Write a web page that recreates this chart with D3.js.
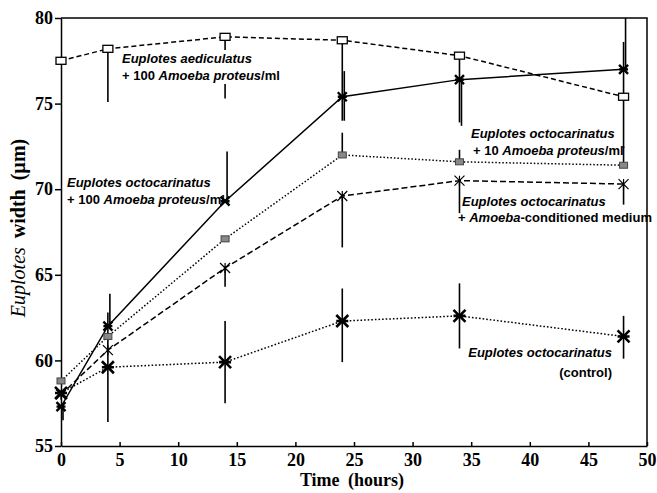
<!DOCTYPE html>
<html>
<head>
<meta charset="utf-8">
<script src="https://cdn.jsdelivr.net/npm/d3@7"></script>
<style>
body { margin: 0; background: #fff; }
svg { display: block; }
.lbl { font-family: "Liberation Sans", Arial, sans-serif; font-size: 13px; font-weight: bold; }
.ax text { font-family: "Liberation Serif", "Times New Roman", serif; font-size: 18px; font-weight: bold; }
</style>
</head>
<body>
<script>
// sampling times (hours)
const hours = [0, 4, 14, 24, 34, 48];

// mean widths (µm)
const aediculatus100 = [77.5, 78.2, 78.9, 78.7, 77.8, 75.4];
const octo100 = [57.3, 62.0, 69.3, 75.4, 76.4, 77.0];
const octo10 = [58.8, 61.4, 67.1, 72.0, 71.6, 71.4];
const octoConditioned = [58.0, 60.6, 65.4, 69.6, 70.5, 70.3];
const octoControl = [58.1, 59.6, 59.9, 62.3, 62.6, 61.4];

// error bar ends (null = not drawn on that side)
const aediculatus100Lo = [null, 75.1, 75.3, 74.0, 73.9, 72.4];
const aediculatus100Hi = [null, null, null, null, null, 78.6];
const octo100Lo = [56.5, null, null, 74.0, 73.7, null];
const octo100Hi = [null, 63.9, 72.2, 76.9, null, 81];
const octo10Lo = [null, null, null, null, null, null];
const octo10Hi = [null, null, null, 73.3, 72.3, 72.5];
const octoConditionedLo = [null, null, 64.3, 66.6, 68.6, 69.1];
const octoConditionedHi = [null, null, null, null, null, null];
const octoControlLo = [null, 56.4, 57.5, 59.9, 60.7, 60.1];
const octoControlHi = [null, 62.8, 62.3, 64.2, 64.5, 62.6];

const xTicks = [0, 5, 10, 15, 20, 25, 30, 35, 40, 45, 50];
const yTicks = [55, 60, 65, 70, 75, 80];

const width = 657, height = 493;
const margin = {top: 18, right: 10, bottom: 47, left: 61};

const x = d3.scaleLinear().domain([0, 50]).range([margin.left, width - margin.right]);
const y = d3.scaleLinear().domain([55, 80]).range([height - margin.bottom, margin.top]);

const svg = d3.select("body").append("svg")
    .attr("width", width)
    .attr("height", height);

svg.append("clipPath").attr("id", "plot")
  .append("rect")
    .attr("x", x(0)).attr("y", y(80))
    .attr("width", x(50) - x(0)).attr("height", y(55) - y(80));

// series setup
const series = [
  {vals: aediculatus100, lo: aediculatus100Lo, hi: aediculatus100Hi, dash: "5,3", mark: "open", dx: 0},
  {vals: octo100, lo: octo100Lo, hi: octo100Hi, dash: null, mark: "star", dx: 2},
  {vals: octo10, lo: octo10Lo, hi: octo10Hi, dash: "1.5,2", mark: "grey", dx: 0},
  {vals: octoConditioned, lo: octoConditionedLo, hi: octoConditionedHi, dash: "6,3", mark: "thin", dx: 0},
  {vals: octoControl, lo: octoControlLo, hi: octoControlHi, dash: "1.6,2", mark: "bold", dx: 0}
];

// axes
const yAxis = d3.axisLeft(y).tickValues(yTicks).tickSizeInner(6).tickSizeOuter(0).tickPadding(2);
const xAxis = d3.axisBottom(x).tickValues(xTicks).tickSizeInner(-4).tickSizeOuter(0).tickPadding(7);

svg.append("g").attr("class", "ax")
    .attr("transform", `translate(${margin.left},0)`)
    .call(yAxis)
    .call(g => g.selectAll("line,path").attr("stroke", "#000").attr("stroke-width", 1.5))
    .call(g => g.selectAll("text").attr("fill", "#000"));

svg.append("g").attr("class", "ax")
    .attr("transform", `translate(0,${y(55)})`)
    .call(xAxis)
    .call(g => g.selectAll("line,path").attr("stroke", "#000").attr("stroke-width", 1.5))
    .call(g => g.selectAll("text").attr("fill", "#000"));

// top and right border
svg.append("path")
    .attr("d", `M${x(0)},${y(80)}H${x(50)}V${y(55)}`)
    .attr("fill", "none").attr("stroke", "#000").attr("stroke-width", 1.5);

const plot = svg.append("g").attr("clip-path", "url(#plot)");

const line = d3.line().x((d, i) => x(hours[i])).y(d => y(d));

series.forEach(s => {
  plot.append("path")
      .attr("d", line(s.vals))
      .attr("fill", "none")
      .attr("stroke", "#000")
      .attr("stroke-width", 1.5)
      .attr("stroke-dasharray", s.dash);

  // error bars
  s.vals.forEach((v, i) => {
    const top = s.hi[i] == null ? v : s.hi[i];
    const bot = s.lo[i] == null ? v : s.lo[i];
    if (top === bot) return;
    plot.append("line")
        .attr("x1", x(hours[i]) + s.dx).attr("x2", x(hours[i]) + s.dx)
        .attr("y1", y(top)).attr("y2", y(bot))
        .attr("stroke", "#000").attr("stroke-width", 1.6);
  });
});

// markers
function drawMark(g, kind, cx, cy) {
  if (kind === "open") {
    g.append("rect").attr("x", cx - 5).attr("y", cy - 3.5).attr("width", 10).attr("height", 7)
      .attr("fill", "#fff").attr("stroke", "#000").attr("stroke-width", 1.3);
  } else if (kind === "grey") {
    g.append("rect").attr("x", cx - 4).attr("y", cy - 3).attr("width", 8).attr("height", 6)
      .attr("fill", "#888").attr("stroke", "#444").attr("stroke-width", 1);
  } else {
    const r = kind === "bold" ? 6 : kind === "thin" ? 5 : 4.5;
    const sw = kind === "bold" ? 2.6 : kind === "thin" ? 1.2 : 2.4;
    let d = `M${cx - r},${cy - r}L${cx + r},${cy + r}M${cx - r},${cy + r}L${cx + r},${cy - r}`;
    if (kind === "thin") d += `M${cx},${cy - r}V${cy + r}`;
    else d += `M${cx - r},${cy}H${cx + r}`;
    g.append("path").attr("d", d).attr("stroke", "#000").attr("stroke-width", sw).attr("fill", "none");
  }
}

const marks = svg.append("g");
series.forEach(s => {
  s.vals.forEach((v, i) => drawMark(marks, s.mark, x(hours[i]), y(v)));
});

// text labels
function label(xp, yp, parts, anchor) {
  const t = svg.append("text").attr("class", "lbl")
      .attr("x", xp).attr("y", yp).attr("text-anchor", anchor || "start");
  parts.forEach(p => t.append("tspan").attr("font-style", p[1] ? "italic" : "normal").text(p[0]));
  return t;
}

const l1a = label(122, 63, [["Euplotes aediculatus", true]]);
const l1b = label(122, 80, [["+ 100 ", false], ["Amoeba proteus", true], ["/ml", false]]);
[l1a, l1b].forEach(t => {
  const b = t.node().getBBox();
  svg.insert("rect", () => t.node())
      .attr("x", b.x - 1).attr("y", b.y - 1).attr("width", b.width + 2).attr("height", b.height + 2)
      .attr("fill", "#fff");
});

label(67, 187, [["Euplotes octocarinatus", true]]);
label(67, 204, [["+ 100 ", false], ["Amoeba proteus", true], ["/ml", false]]);

label(471, 138, [["Euplotes octocarinatus", true]]);
label(473, 155, [["+ 10 ", false], ["Amoeba proteus", true], ["/ml", false]]);

label(462, 206, [["Euplotes octocarinatus", true]]);
label(458, 222, [["+ ", false], ["Amoeba", true], ["-conditioned medium", false]]);

label(612, 357, [["Euplotes octocarinatus", true]], "end");
label(612, 377, [["(control)", false]], "end");

// axis titles
svg.append("text")
    .attr("x", 352).attr("y", 486)
    .attr("text-anchor", "middle")
    .attr("font-family", "Liberation Serif, Times New Roman, serif")
    .attr("font-size", 18).attr("font-weight", "bold")
    .attr("word-spacing", 4)
    .text("Time (hours)");

const yt = svg.append("text")
    .attr("transform", "translate(25,228) rotate(-90)")
    .attr("text-anchor", "middle")
    .attr("font-family", "Liberation Serif, Times New Roman, serif")
    .attr("font-size", 20)
    .attr("word-spacing", 4);
yt.append("tspan").attr("font-style", "italic").text("Euplotes");
yt.append("tspan").attr("font-weight", "bold").text(" width (µm)");
</script>
</body>
</html>
